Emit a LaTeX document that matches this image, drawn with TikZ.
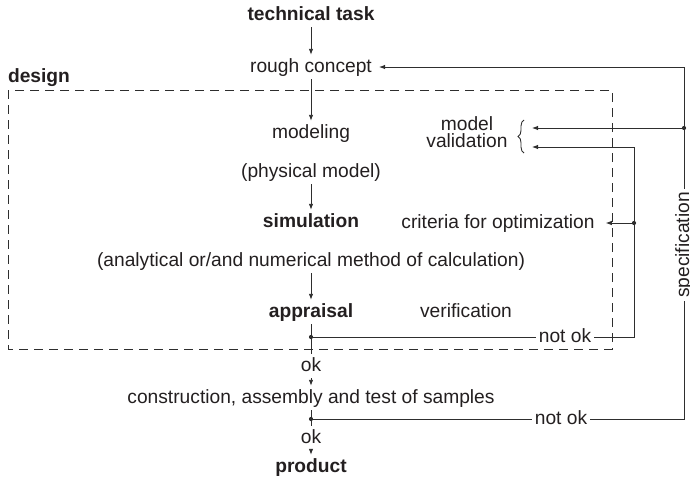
\documentclass[tikz,border=0pt]{standalone}
\usepackage{fontspec}
\setmainfont{Liberation Sans}
\usetikzlibrary{arrows.meta,decorations.pathreplacing}
\definecolor{ink}{HTML}{231F20}
\definecolor{lineink}{HTML}{2E2E2E}
\begin{document}
\begin{tikzpicture}[x=1pt,y=-1pt,
  txt/.style={inner sep=3pt, text height=14pt, text depth=4pt, font=\fontsize{19.2}{22}\selectfont, text=ink},
  bold/.style={txt, font=\fontsize{19.2}{22}\selectfont\bfseries},
  small/.style={txt, inner sep=0pt, text height=10pt, text depth=3pt},
  ln/.style={draw=lineink, line width=0.9pt},
  arr/.style={ln, -{Latex[length=6pt,width=4.5pt]}},
  dot/.style={circle, fill=lineink, inner sep=0pt, minimum size=4.2pt},
  dashbox/.style={ln, dash pattern=on 9pt off 6pt},
]
\useasboundingbox (0,0) rectangle (690,480);

% dashed design box
\draw[dashbox] (8,90) rectangle (612,349);
\node[bold] (design) at (39,77) {design};

% main column
\node[bold] (tt)   at (311,15)  {technical task};
\node[txt]  (rc)   at (311,67)  {rough concept};
\node[txt]  (mod)  at (311,133) {modeling};
\node[txt]  (pm)   at (311,172) {(physical model)};
\node[bold] (sim)  at (311,222) {simulation};
\node[txt]  (anl)  at (311,261) {(analytical or/and numerical method of calculation)};
\node[bold] (app)  at (311,312) {appraisal};
\node[txt]  (ok1)  at (311,366) {ok};
\node[txt]  (con)  at (311,398) {construction, assembly and test of samples};
\node[txt]  (ok2)  at (311,438) {ok};
\node[bold] (prod) at (311,467) {product};

% side labels
\node[small] (mvA)  at (467,126.5) {model};
\node[small] (mvB)  at (467,143.5) {validation};
\node[txt] (crit) at (498,223) {criteria for optimization};
\node[txt] (ver)  at (466,312) {verification};
\node[txt] (notok1) at (565,337) {not ok};
\node[txt] (notok2) at (561,419) {not ok};
\node[txt, rotate=90] (spec) at (684,245) {specification};

% brace
\draw[ln, decorate, decoration={brace, amplitude=6pt}] (524,153) -- (524,120);
\coordinate (mb) at (532,128);
\coordinate (vb) at (532,147);
\coordinate (r1) at (634,0);

% main arrows
\draw[arr] (tt) -- (rc);
\draw[arr] (rc) -- (mod);
\draw[arr] (pm) -- (sim);
\draw[arr] (anl) -- (app);
\draw[ln]  (app) -- (ok1);
\draw[arr] (ok1) -- (con);
\draw[ln]  (con) -- (ok2);
\draw[arr] (ok2) -- (prod);

% verification feedback
\node[dot] (d1) at (311,337) {};
\draw[ln] (d1) -- (notok1.west);
\draw[arr] (notok1.east) -| (r1 |- vb) -- (vb);
\node[dot] (d3) at (634,223) {};
\draw[arr] (d3) -- ([xshift=8pt]crit.east);

% specification feedback
\node[dot] (d2) at (311,419) {};
\draw[ln] (d2) -- (notok2.west);
\draw[ln] (notok2.east) -| (spec.west);
\draw[arr] (spec.east) |- ([xshift=4pt]rc.east);
\node[dot] (d4) at (spec.east |- mb) {};
\draw[arr] (d4) -- (mb);
\end{tikzpicture}
\end{document}
